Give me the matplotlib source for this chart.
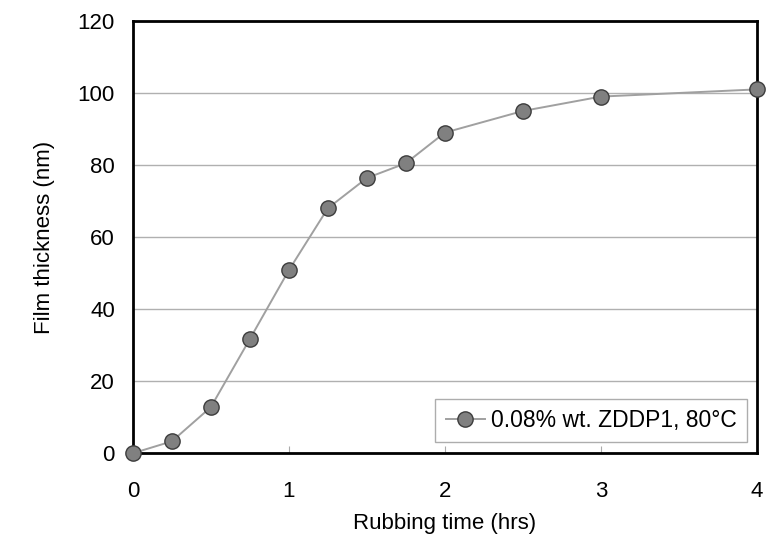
import matplotlib.pyplot as plt

plt.rcParams['font.family'] = ['Liberation Sans', 'DejaVu Sans']

# Rubbing time (hrs) and film thickness (nm)
time_hrs = [0, 0.25, 0.5, 0.75, 1, 1.25, 1.5, 1.75, 2, 2.5, 3, 4]
thickness_nm = [0, 3.3, 12.8, 31.7, 50.8, 68, 76.4, 80.5, 89, 95, 99, 101]

x_ticks = [0, 1, 2, 3, 4]
y_ticks = [0, 20, 40, 60, 80, 100, 120]

fig = plt.figure(figsize=(7.77, 5.37), dpi=100)
ax = fig.add_axes([0.171, 0.156, 0.803, 0.805])

ax.plot(time_hrs, thickness_nm, color='#a0a0a0', linewidth=1.4,
        marker='o', markersize=11, markerfacecolor='#808080',
        markeredgecolor='#3c3c3c', markeredgewidth=1.0,
        label='0.08% wt. ZDDP1, 80\u00b0C', clip_on=False, zorder=3)

ax.set_xlim(0, 4)
ax.set_ylim(0, 120)
ax.set_xticks(x_ticks)
ax.set_yticks(y_ticks)
ax.yaxis.grid(True, color='#b0b0b0', linewidth=1.0)
ax.set_axisbelow(True)

for s in ax.spines.values():
    s.set_linewidth(2)
    s.set_color('black')

ax.tick_params(axis='x', direction='in', length=5, width=0.8, color='#aaaaaa',
               labelsize=16, pad=20)
ax.tick_params(axis='y', length=0, labelsize=16, pad=13)

ax.set_xlabel('Rubbing time (hrs)', fontsize=16, labelpad=8)
ax.set_ylabel('Film thickness (nm)', fontsize=16, labelpad=16)

leg = ax.legend(loc='lower right', bbox_to_anchor=(0.985, 0.025), fontsize=16.5,
                frameon=True, fancybox=False, handlelength=1.7,
                handletextpad=0.3, borderpad=0.45, borderaxespad=0.0)
leg.get_frame().set_edgecolor('#999999')
leg.get_frame().set_linewidth(1.0)

fig.savefig('out.png', dpi=100)
